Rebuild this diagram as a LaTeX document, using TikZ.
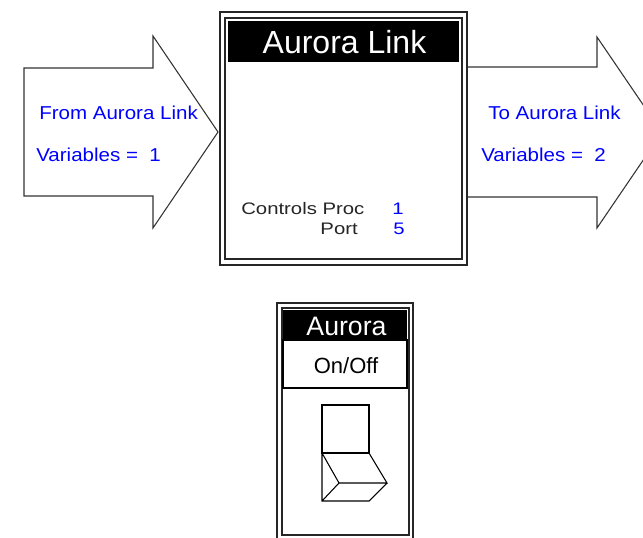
\documentclass[tikz,border=0pt]{standalone}
\usepackage{fontspec}
\setmainfont{Liberation Sans}
\newfontfamily\lblfont[FakeStretch=1.1]{Liberation Sans}
\newfontfamily\infofont[FakeStretch=1.22]{Liberation Sans}

\begin{document}
\begin{tikzpicture}[x=0.75pt, y=-0.75pt, line join=miter]
  \tikzset{
    shape line/.style={draw=black!80, line width=0.8pt},
    frame line/.style={draw=black!85, line width=1pt},
    var label/.style={text=blue, font=\lblfont\fontsize{14}{16}\selectfont, inner sep=0pt},
    info label/.style={text=black!85, font=\infofont\fontsize{12.5}{14}\selectfont, inner sep=0pt,
      text height=9pt, text depth=0pt},
    head label/.style={text=white, inner sep=0pt, anchor=base}
  }
  \useasboundingbox (0,0) rectangle (643,537);
  \clip (0,0) rectangle (643,537);

  % in and out arrows
  \draw[shape line, fill=white] (24,68) -- (153,68) -- (153,36) -- (218,132) -- (153,228) -- (153,196) -- (24,196) -- cycle;
  \draw[shape line, fill=white] (460,67) -- (597,67) -- (597,37) -- (662,132.5) -- (597,228) -- (597,197) -- (460,197);
  \node[var label, anchor=base west] (inname) at (39,119) {From Aurora Link};
  \node[var label, anchor=base west] (invars) at (36,161) {Variables =\ \ 1};
  \node[var label, anchor=base west] (outname) at (488,119) {To Aurora Link};
  \node[var label, anchor=base west] (outvars) at (481,161) {Variables =\ \ 2};

  % link block
  \draw[frame line, fill=white] (220,12) rectangle (467,265);
  \draw[frame line] (225,18) rectangle (462,259);
  \fill (228,21) rectangle (459,62);
  \node[head label, font=\fontsize{24}{28}\selectfont] (linktitle) at (344.5,53) {Aurora Link};
  \node[info label, anchor=base west] (proc) at (241,214) {Controls Proc};
  \node[info label, anchor=base east] (port) at (358,234) {Port};
  \node[info label, text=blue, anchor=base east] (procval) at (404,214) {1};
  \node[info label, text=blue, anchor=base east] (portval) at (405,234) {5};

  % on/off switch block
  \draw[frame line, fill=white] (277,303) rectangle (413,541);
  \draw[frame line] (282,308) rectangle (409,535);
  \fill (283,310) rectangle (407,340);
  \node[head label, font=\fontsize{20}{24}\selectfont] (swtitle) at (346.5,335) {Aurora};
  \draw[line width=0.8pt] (283,340) rectangle (407,388);
  \node[inner sep=0pt, anchor=base, font=\fontsize{16.5}{20}\selectfont] (swstate) at (346,373) {On/Off};
  \draw[line width=0.8pt] (322,405) rectangle (369,453);
  \draw[line width=0.8pt] (322,453) -- (339,483) -- (387,483) -- (369,453)
    (322,453) -- (322,501) -- (369,501) -- (387,483)
    (339,483) -- (322,501);
\end{tikzpicture}
\end{document}
